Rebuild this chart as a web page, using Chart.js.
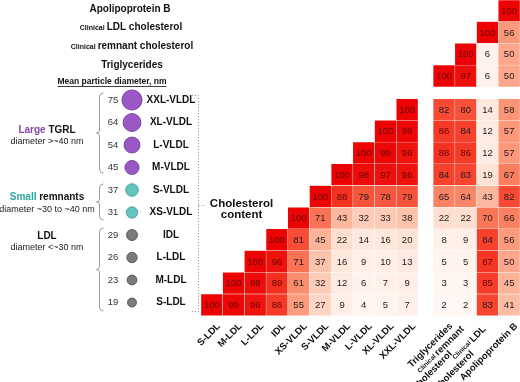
<!DOCTYPE html>
<html>
<head>
<meta charset="utf-8">
<script src="https://cdn.jsdelivr.net/npm/chart.js@4.4.1/dist/chart.umd.min.js"></script>
<style>
  html, body { margin: 0; padding: 0; background: #fff; }
  #wrap { width: 520px; height: 382px; }
</style>
</head>
<body>
<div id="wrap"><canvas id="c"></canvas></div>
<script>
const n = null;

// columns, left to right
const colNames = ['S-LDL', 'M-LDL', 'L-LDL', 'IDL', 'XS-VLDL', 'S-VLDL', 'M-VLDL', 'L-VLDL', 'XL-VLDL', 'XXL-VLDL',
  'Triglycerides', 'remnant cholesterol', 'LDL cholesterol', 'Apolipoprotein B'];
// rows, top to bottom
const rowNames = ['Apolipoprotein B', 'LDL cholesterol', 'remnant cholesterol', 'Triglycerides',
  'XXL-VLDL', 'XL-VLDL', 'L-VLDL', 'M-VLDL', 'S-VLDL', 'XS-VLDL', 'IDL', 'L-LDL', 'M-LDL', 'S-LDL'];

// correlation (%) per row, one value per column
const rowApoB   = [n, n, n, n, n, n, n, n, n, n, n, n, n, 100];
const rowLDLc   = [n, n, n, n, n, n, n, n, n, n, n, n, 100, 56];
const rowRemC   = [n, n, n, n, n, n, n, n, n, n, n, 100, 6, 50];
const rowTG     = [n, n, n, n, n, n, n, n, n, n, 100, 97, 6, 50];
const rowXXL    = [n, n, n, n, n, n, n, n, n, 100, 82, 80, 14, 58];
const rowXL     = [n, n, n, n, n, n, n, n, 100, 99, 86, 84, 12, 57];
const rowL      = [n, n, n, n, n, n, n, 100, 99, 96, 88, 86, 12, 57];
const rowM      = [n, n, n, n, n, n, 100, 98, 97, 96, 84, 83, 19, 67];
const rowS      = [n, n, n, n, n, 100, 88, 79, 78, 79, 65, 64, 43, 82];
const rowXS     = [n, n, n, n, 100, 71, 43, 32, 33, 38, 22, 22, 70, 66];
const rowIDL    = [n, n, n, 100, 81, 45, 22, 14, 16, 20, 8, 9, 84, 56];
const rowLLDL   = [n, n, 100, 96, 71, 37, 16, 9, 10, 13, 5, 5, 87, 50];
const rowMLDL   = [n, 100, 98, 89, 61, 32, 12, 6, 7, 9, 3, 3, 85, 45];
const rowSLDL   = [100, 99, 96, 86, 55, 27, 9, 4, 5, 7, 2, 2, 83, 41];
const corrRows = [rowApoB, rowLDLc, rowRemC, rowTG, rowXXL, rowXL, rowL, rowM, rowS, rowXS, rowIDL, rowLLDL, rowMLDL, rowSLDL];

// mean particle diameter, nm (XXL-VLDL .. S-LDL)
const diameters = [75, 64, 54, 45, 37, 31, 29, 26, 23, 19];
const sizeGroup = ['large', 'large', 'large', 'large', 'small', 'small', 'ldl', 'ldl', 'ldl', 'ldl'];

// ---------- layout ----------
const CELL = 21.7;
const colPos = i => i < 10 ? i : i + 0.7;
const rowPos = i => i < 4 ? i : i + 0.55;
const X_MIN = -0.5 - 201 / CELL, X_MAX = X_MIN + 520 / CELL;
const Y_MIN = -0.5, Y_MAX = Y_MIN + 382 / CELL;
const ux = px => X_MIN + px / CELL;
const uy = py => Y_MIN + py / CELL;
const labelRowY = i => uy(100 + i * 22.5);

const FONT = 'Liberation Sans, Arial, Helvetica, sans-serif';
const groupFill = { large: '#9a58c6', small: '#63c4bd', ldl: '#7b7b7b' };
const groupEdge = { large: '#6c3a98', small: '#3b9690', ldl: '#474747' };

const heatStops = [[0, [255, 249, 246]], [20, [254, 226, 212]], [40, [252, 190, 165]], [55, [252, 156, 126]],
  [70, [250, 118, 88]], [85, [246, 62, 42]], [100, [236, 4, 4]]];
function heat(v) {
  for (let i = 1; i < heatStops.length; i++) {
    const [v1, c1] = heatStops[i], [v0, c0] = heatStops[i - 1];
    if (v <= v1) {
      const t = (v - v0) / (v1 - v0);
      const c = c0.map((a, k) => Math.round(a + (c1[k] - a) * t));
      return `rgb(${c[0]},${c[1]},${c[2]})`;
    }
  }
  return 'rgb(236,4,4)';
}

const cells = [];
corrRows.forEach((row, r) => row.forEach((v, c) => {
  if (v === null) return;
  cells.push({ x: [colPos(c) - 0.5, colPos(c) + 0.5], y: rowPos(r), v });
}));

const bubbles = diameters.map((d, i) => ({ x: ux(132), y: labelRowY(i), r: 2.6 + d * 0.1 }));

// draw runs of text with mixed fonts on one baseline
function runs(ctx, parts, x, y, align) {
  let w = 0;
  parts.forEach(p => { ctx.font = p[1]; p.w = ctx.measureText(p[0]).width; w += p.w; });
  let sx = align === 'center' ? x - w / 2 : align === 'right' ? x - w : x;
  ctx.textAlign = 'left';
  parts.forEach(p => { ctx.font = p[1]; ctx.fillStyle = p[2] || '#111'; ctx.fillText(p[0], sx, y); sx += p.w; });
  return w;
}
const B10 = `bold 10px ${FONT}`, B7 = `bold 7px ${FONT}`;
const B9 = `bold 9.5px ${FONT}`, B6 = `bold 6.5px ${FONT}`;

function brace(ctx, x, y0, y1) {
  const m = (y0 + y1) / 2;
  ctx.beginPath();
  ctx.moveTo(x + 4, y0);
  ctx.quadraticCurveTo(x, y0, x, y0 + 4);
  ctx.lineTo(x, m - 3);
  ctx.quadraticCurveTo(x, m, x - 3, m);
  ctx.quadraticCurveTo(x, m, x, m + 3);
  ctx.lineTo(x, y1 - 4);
  ctx.quadraticCurveTo(x, y1, x + 4, y1);
  ctx.stroke();
}

const annotations = {
  id: 'annotations',
  afterDatasetsDraw(chart) {
    const { ctx, scales: { x, y } } = chart;
    const px = v => x.getPixelForValue(v), py = v => y.getPixelForValue(v);
    ctx.save();

    // cell values
    ctx.textAlign = 'center'; ctx.textBaseline = 'middle';
    ctx.font = `9.5px ${FONT}`;
    chart.getDatasetMeta(0).data.forEach((el, i) => {
      const p = el.getCenterPoint();
      const v = cells[i].v;
      ctx.fillStyle = v >= 85 ? '#6a0000' : '#1c1c1c';
      ctx.fillText(String(v), p.x, p.y + 0.5);
    });

    // clinical row titles
    ctx.textBaseline = 'alphabetic';
    runs(ctx, [['Apolipoprotein B', B10]], 130, 11.5, 'center');
    runs(ctx, [['Clinical ', B7], ['LDL cholesterol', B10]], 131, 30, 'center');
    runs(ctx, [['Clinical ', B7], ['remnant cholesterol', B10]], 132, 49, 'center');
    runs(ctx, [['Triglycerides', B10]], 132, 68, 'center');
    const mw = runs(ctx, [['Mean particle diameter, nm', `bold 8.5px ${FONT}`]], 112, 84, 'center');
    ctx.strokeStyle = '#111'; ctx.lineWidth = 0.8;
    ctx.beginPath(); ctx.moveTo(112 - mw / 2, 86.5); ctx.lineTo(112 + mw / 2, 86.5); ctx.stroke();

    // lipoprotein labels + diameters
    ctx.textBaseline = 'middle'; ctx.textAlign = 'center';
    diameters.forEach((d, i) => {
      const yy = py(labelRowY(i));
      ctx.font = `9.5px ${FONT}`; ctx.fillStyle = '#333';
      ctx.fillText(String(d), px(ux(113)), yy);
      ctx.font = B10; ctx.fillStyle = '#111';
      ctx.fillText(rowNames[4 + i], px(ux(171)), yy);
    });

    // group labels
    ctx.textBaseline = 'middle';
    const R9 = `9px ${FONT}`;
    runs(ctx, [['Large ', B10, '#8447ab'], ['TGRL', B10]], 47, 130, 'center');
    runs(ctx, [['diameter >~40 nm', R9, '#222']], 47, 142, 'center');
    runs(ctx, [['Small ', B10, '#2aa9a3'], ['remnants', B10]], 47, 197, 'center');
    runs(ctx, [['diameter ~30 to ~40 nm', R9, '#222']], 47, 209.5, 'center');
    runs(ctx, [['LDL', B10]], 47, 236, 'center');
    runs(ctx, [['diameter <~30 nm', R9, '#222']], 47, 248, 'center');

    // braces
    ctx.strokeStyle = '#9a9a9a'; ctx.lineWidth = 1;
    brace(ctx, 99.5, 93, 173);
    brace(ctx, 99.5, 184, 220);
    brace(ctx, 99.5, 228, 311);

    // dotted bracket towards "Cholesterol content"
    ctx.setLineDash([1.2, 1.8]);
    ctx.beginPath();
    ctx.moveTo(192, 95.5); ctx.lineTo(198.5, 95.5); ctx.lineTo(198.5, 311.5); ctx.lineTo(192, 311.5);
    ctx.moveTo(198.5, 205.5); ctx.lineTo(205, 205.5);
    ctx.stroke();
    ctx.setLineDash([]);
    ctx.font = `bold 11.5px ${FONT}`; ctx.fillStyle = '#111'; ctx.textAlign = 'center';
    ctx.fillText('Cholesterol', 241.5, 204);
    ctx.fillText('content', 241.5, 215);

    // column labels, rotated
    const bottom = py(rowPos(13) + 0.5);
    colNames.forEach((name, c) => {
      ctx.save();
      ctx.textBaseline = 'middle';
      if (c === 11 || c === 12) {
        ctx.translate(px(colPos(c)) - 3, bottom + 12);
        ctx.rotate(-Math.PI / 4);
        const l1 = c === 11 ? [['Clinical ', B6], ['remnant', B9]] : [['Clinical ', B6], ['LDL', B9]];
        const w1 = runs(ctx, l1, 0, 0, 'right');
        runs(ctx, [['cholesterol', B9]], -Math.max(26, w1 * 0.4), 9, 'right');
      } else {
        ctx.translate(px(colPos(c)) + 7, bottom + 9);
        ctx.rotate(-Math.PI / 4);
        runs(ctx, [[name, B9]], 0, 0, 'right');
      }
      ctx.restore();
    });

    ctx.restore();
  }
};

new Chart(document.getElementById('c'), {
  type: 'bar',
  data: {
    datasets: [
      {
        type: 'bar', indexAxis: 'y', data: cells,
        backgroundColor: c => heat(c.raw.v),
        borderColor: 'rgba(255,255,255,0.45)', borderWidth: 0.5, borderSkipped: false,
        barPercentage: 1, categoryPercentage: 1
      },
      {
        type: 'bubble', data: bubbles,
        backgroundColor: sizeGroup.map(g => groupFill[g]),
        borderColor: sizeGroup.map(g => groupEdge[g]),
        borderWidth: 0.8
      }
    ]
  },
  options: {
    responsive: true, maintainAspectRatio: false, animation: false, events: [],
    layout: { padding: 0, autoPadding: false },
    plugins: { legend: { display: false }, tooltip: { enabled: false } },
    scales: {
      x: { type: 'linear', min: X_MIN, max: X_MAX, display: false, afterBuildTicks: s => { s.ticks = []; } },
      y: { type: 'linear', min: Y_MIN, max: Y_MAX, reverse: true, display: false, afterBuildTicks: s => { s.ticks = []; } }
    }
  },
  plugins: [annotations]
});
</script>
</body>
</html>
